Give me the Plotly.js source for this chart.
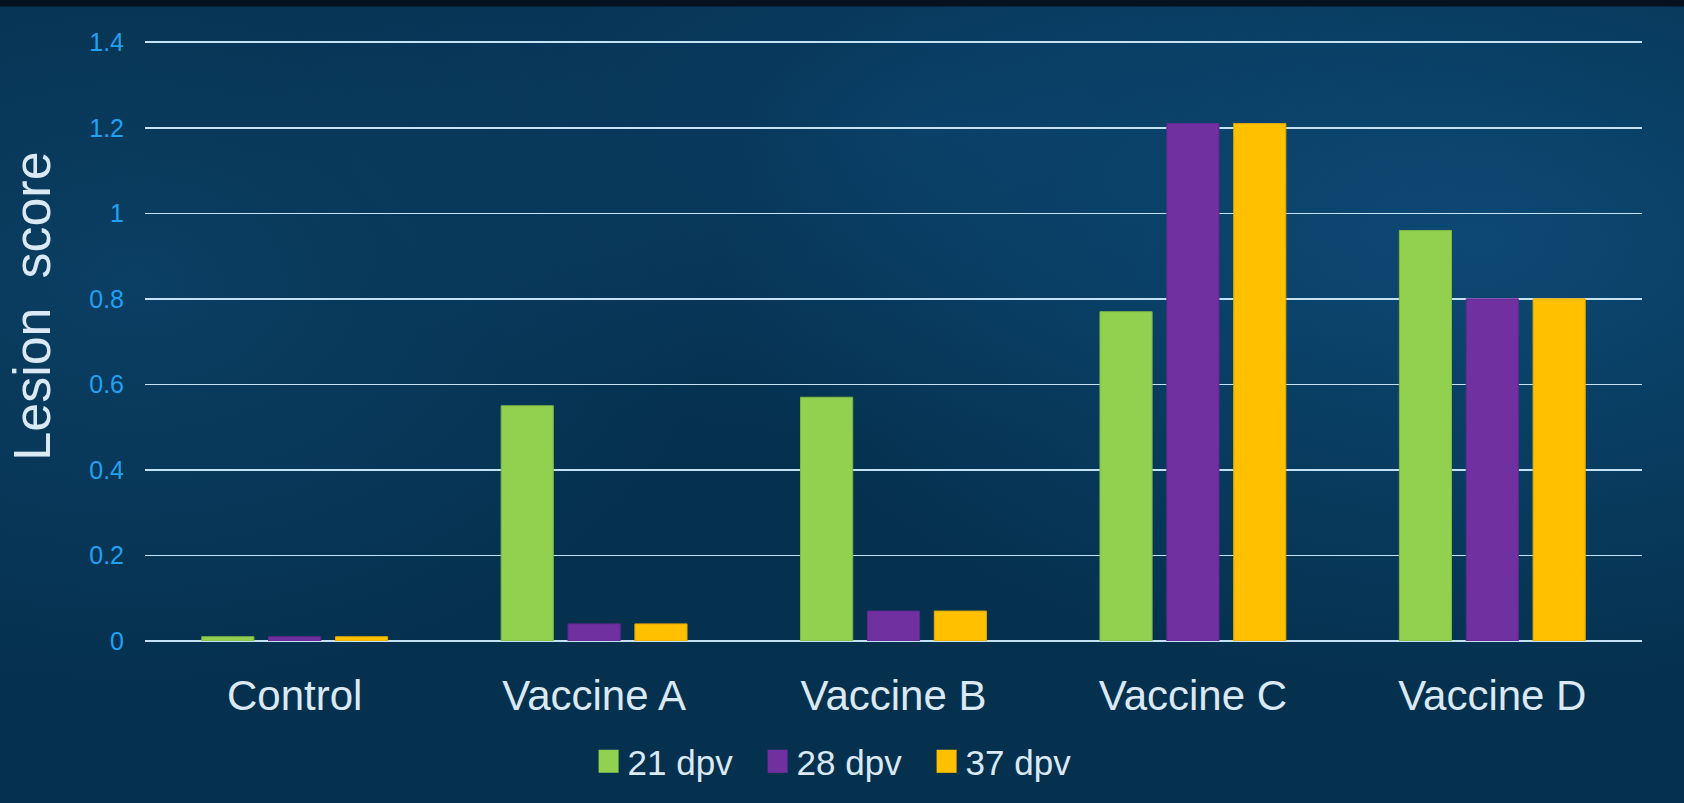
<!DOCTYPE html>
<html>
<head>
<meta charset="utf-8">
<script src="https://cdn.plot.ly/plotly-3.0.1.min.js"></script>
<style>
html,body{margin:0;padding:0;width:1684px;height:803px;overflow:hidden;}
body{
  background:
    linear-gradient(to bottom, #06121f 0px, #06121f 6px, transparent 7px),
    radial-gradient(ellipse 45% 55% at 88% 30%, rgba(16,82,130,0.7) 0%, rgba(16,82,130,0) 100%),
    radial-gradient(ellipse 35% 50% at 8% 35%, rgba(14,70,110,0.65) 0%, rgba(14,70,110,0) 100%),
    radial-gradient(ellipse 40% 40% at 55% 15%, rgba(14,70,115,0.55) 0%, rgba(14,70,115,0) 100%),
    #05314f;
}
#chart{width:1684px;height:803px;}
</style>
</head>
<body>
<div id="chart"></div>
<script>
const categories = ["Control", "Vaccine A", "Vaccine B", "Vaccine C", "Vaccine D"];
const series21 = [0.01, 0.55, 0.57, 0.77, 0.96];
const series28 = [0.01, 0.04, 0.07, 1.21, 0.80];
const series37 = [0.01, 0.04, 0.07, 1.21, 0.80];
const seriesNames = ["21 dpv", "28 dpv", "37 dpv"];
const yTitle = "Lesion\u00a0 score";

const colors = ["#92d050", "#7030a0", "#ffc000"];
const lineColors = ["#7fb843", "#62288e", "#e0a800"];
const allSeries = [series21, series28, series37];

const traces = allSeries.map((vals, i) => ({
  type: "bar",
  name: seriesNames[i],
  x: categories,
  y: vals,
  marker: {color: colors[i], line: {color: lineColors[i], width: 1}},
  hoverinfo: "skip"
}));

const layout = {
  width: 1684,
  height: 803,
  paper_bgcolor: "rgba(0,0,0,0)",
  plot_bgcolor: "rgba(0,0,0,0)",
  margin: {l: 145, r: 42, t: 38, b: 162},
  barmode: "group",
  bargap: 0.33,
  bargroupgap: 0.22,
  font: {family: "'Liberation Sans', Arial, sans-serif"},
  showlegend: true,
  legend: {
    orientation: "h",
    x: 0.465, xanchor: "center",
    y: -0.2, yanchor: "middle",
    font: {size: 35, color: "#dbe9f5"},
    entrywidth: 124,
    entrywidthmode: "pixels",
    bgcolor: "rgba(0,0,0,0)"
  },
  xaxis: {
    type: "category",
    showgrid: false,
    zeroline: false,
    showline: false,
    ticks: "",
    tickfont: {size: 42, color: "#dbe9f5"},
    ticklabelstandoff: 26
  },
  yaxis: {
    range: [0, 1.41],
    tickvals: [0, 0.2, 0.4, 0.6, 0.8, 1, 1.2, 1.4],
    ticktext: ["0", "0.2", "0.4", "0.6", "0.8", "1", "1.2", "1.4"],
    showgrid: true,
    gridcolor: "#c4e2f6",
    gridwidth: 1.6,
    zeroline: true,
    zerolinecolor: "#c4e2f6",
    zerolinewidth: 1.6,
    showline: false,
    ticks: "",
    tickfont: {size: 25, color: "#22a0f2"},
    ticklabelstandoff: 20
  },
  annotations: [{
    text: yTitle,
    xref: "paper", yref: "paper",
    x: -0.0755, y: 0.556,
    xanchor: "center", yanchor: "middle",
    textangle: -90,
    showarrow: false,
    font: {size: 52, color: "#dbe9f5"}
  }]
};

Plotly.newPlot("chart", traces, layout, {displayModeBar: false, staticPlot: true}).then(() => {
  document.querySelectorAll("#chart .legend .legendpoints path").forEach(p => {
    p.setAttribute("d", "M11,11.5H-9V-11.5H11Z");
    p.style.strokeWidth = "0";
  });
});
</script>
</body>
</html>
